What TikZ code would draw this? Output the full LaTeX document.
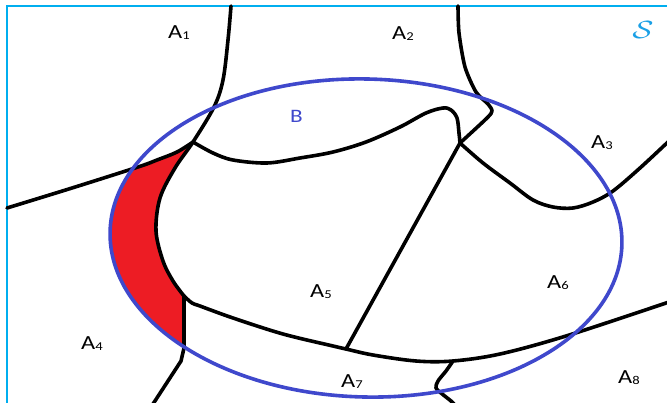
\documentclass[tikz,border=0pt]{standalone}
\usepackage{fontspec}
\setmainfont{Carlito}
\definecolor{pindigo}{HTML}{3F48CC}
\definecolor{pred}{HTML}{ED1C24}
\definecolor{pcyan}{HTML}{00AEEF}
\definecolor{scyan}{HTML}{1AA0E6}
\newcommand\albl[2]{\scalebox{1.22}[1]{\fontsize{20}{20}\selectfont #1\raisebox{-1pt}{\fontsize{12}{12}\selectfont #2}}}
\begin{document}
\begin{tikzpicture}[x=1pt,y=-1pt,
  bd/.style={line width=3.6pt, line join=round, line cap=round, smooth, tension=0.55},
  lbl/.style={inner sep=0pt, anchor=base west},
  ell/.style={shift={(366,238)}, rotate=-1.5}]
\useasboundingbox (0,0) rectangle (667,402);
\fill[white] (0,0) rectangle (667,402);
\clip (0,0) rectangle (667,402);
% red region
\begin{scope}
  \clip[ell] (0,0) ellipse [x radius=256pt, y radius=159pt];
  \clip[smooth, tension=0.55] plot coordinates {(231,6) (228,40) (223,80) (214,107) (193,142) (175,168) (160,198) (156,231) (163,261) (173,281) (184,296)} -- (184,348) -- (181,361) -- (153,402) -- (0,402) -- (0,0) -- cycle;
  \fill[pred, smooth, tension=0.55] plot coordinates {(7,208) (72,188) (138,167) (157,160) (177,152) (193,142)} -- (300,142) -- (300,402) -- (0,402) -- cycle;
\end{scope}
% frame
\draw[pcyan, line width=2pt] (7,404) -- (7,6) -- (669,6);
% boundaries
\draw[bd] plot coordinates {(231,6) (228,40) (223,80) (214,107) (193,142) (175,168) (160,198) (156,231) (163,261) (173,281) (184,296)} -- (184,348) -- (181,361) -- (153,404);
\draw[bd] plot coordinates {(7,208) (72,188) (138,167) (157,160) (177,152) (193,142)};
\draw[bd] plot coordinates {(193,142) (213,153) (233,160) (267,163) (300,158) (333,152) (366,142) (400,127) (426,113) (443,108) (451,110) (457,118) (459,133) (460,143)};
\draw[bd, tension=0.45] plot coordinates {(458,6) (459,33) (465,67) (476,92) (488,104) (492,111) (487,118) (460,143)};
\draw[bd] (346,349) -- (460,143);
\draw[bd] plot coordinates {(460,143) (483,163) (510,183) (533,200) (553,207) (573,208) (593,202) (613,191) (640,168) (669,141)};
\draw[bd] plot coordinates {(184,296) (192,303) (200,306) (233,318) (283,334) (333,346) (346,349) (373,355) (416,361) (453,361) (500,354) (566,336) (669,302)};
\draw[bd] plot coordinates {(453,361) (446,371) (438,381) (436,388) (441,393) (451,401) (454,404)};
% set B
\draw[ell, pindigo, line width=3.6pt] (0,0) ellipse [x radius=256pt, y radius=159pt];
% labels
\node[lbl] (a1) at (168,38.5) {\albl{A}{1}};
\node[lbl] (a2) at (392,39) {\albl{A}{2}};
\node[lbl] (a3) at (591,148) {\albl{A}{3}};
\node[lbl] (a4) at (81,349) {\albl{A}{4}};
\node[lbl] (a5) at (310,297) {\albl{A}{5}};
\node[lbl] (a6) at (547,288) {\albl{A}{6}};
\node[lbl] (a7) at (341,387) {\albl{A}{7}};
\node[lbl] (a8) at (618,383) {\albl{A}{8}};
\node[lbl, text=pindigo] (b) at (290,122.5) {\scalebox{1.22}[1]{\fontsize{19}{19}\selectfont B}};
\node[inner sep=0pt, text=scyan] (s) at (643,30) {\scalebox{1.25}[1]{\fontsize{30}{30}\selectfont$\mathcal{S}$}};
\end{tikzpicture}
\end{document}
